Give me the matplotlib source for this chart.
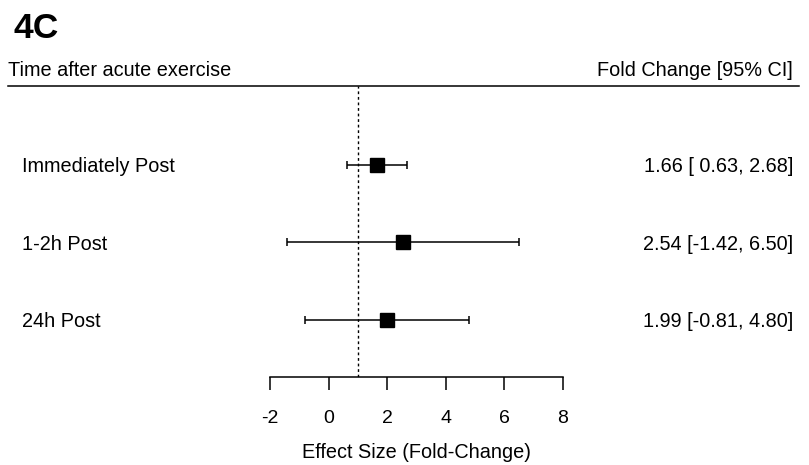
import numpy as np
import matplotlib.pyplot as plt
from matplotlib.lines import Line2D
from matplotlib.transforms import offset_copy

plt.rcParams['font.family'] = ['Liberation Sans', 'DejaVu Sans']

# Données du forest plot
labels = ["Immediately Post", "1-2h Post", "24h Post"]
est = np.array([1.66, 2.54, 1.99])
lo = np.array([0.63, -1.42, -0.81])
hi = np.array([2.68, 6.50, 4.80])
rows = np.array([3, 2, 1])
xticks = [-2, 0, 2, 4, 6, 8]

W, H = 809, 465
fig = plt.figure(figsize=(W / 100, H / 100), dpi=100)

# axes couvrant toute la largeur, de la ligne d'en-tête jusqu'à l'axe x
y_top, y_bot = 86, 377
ax = fig.add_axes([0, 1 - y_bot / H, 1, (y_bot - y_top) / H])

# échelle : -2 -> 270 px, 8 -> 563 px ; rangées espacées de 77.5 px
ppu = (563 - 270) / 10
ax.set_xlim(-2 - 270 / ppu, 8 + (W - 563) / ppu)
rs = 77.5
ax.set_ylim(1 - 57 / rs, 3 + 79 / rs)

for s in ['top', 'left', 'right']:
    ax.spines[s].set_visible(False)
ax.spines['bottom'].set_bounds(-2, 8)
ax.spines['bottom'].set_linewidth(1.1)
ax.set_yticks([])
ax.set_xticks(xticks)
ax.set_xticklabels([str(t) for t in xticks])
ax.tick_params(axis='x', direction='out', length=9.4, width=1.1, pad=14, labelsize=14)
ax.set_xlabel("Effect Size (Fold-Change)", fontsize=14.3)
ax.xaxis.set_label_coords(416.5 / W, -0.228)

# ligne de référence
ax.axvline(1, color='k', lw=1, ls=(0, (2, 2)))

# intervalles de confiance et estimations
ax.errorbar(est, rows, xerr=[est - lo, hi - est], fmt='none', ecolor='k',
            elinewidth=1.1, capsize=2.8, capthick=1.1)
ax.plot(est, rows, 's', color='k', ms=9.8)

# textes des rangées, ligne de base ~7 px sous le centre de la rangée
tr = offset_copy(ax.get_yaxis_transform(), fig=fig, x=0, y=-7, units='dots')
for r, lab, e, l, h in zip(rows, labels, est, lo, hi):
    ax.text(22 / W, r, lab, transform=tr, ha='left', va='baseline', fontsize=14.3)
    ax.text(793 / W, r, f"{e:.2f} [{l:5.2f}, {h:.2f}]", transform=tr,
            ha='right', va='baseline', fontsize=14.3)

# en-tête
fig.text(13 / W, 1 - 38.5 / H, "4C", fontsize=25.5, fontweight='bold', ha='left', va='baseline')
fig.text(8 / W, 1 - 75.5 / H, "Time after acute exercise", fontsize=14.3, ha='left', va='baseline')
fig.text(793 / W, 1 - 75.5 / H, "Fold Change [95% CI]", fontsize=14.3, ha='right', va='baseline')
fig.add_artist(Line2D([8 / W, 799 / W], [1 - y_top / H, 1 - y_top / H], color='k', lw=1.1))

plt.savefig('out.png', dpi=100)
